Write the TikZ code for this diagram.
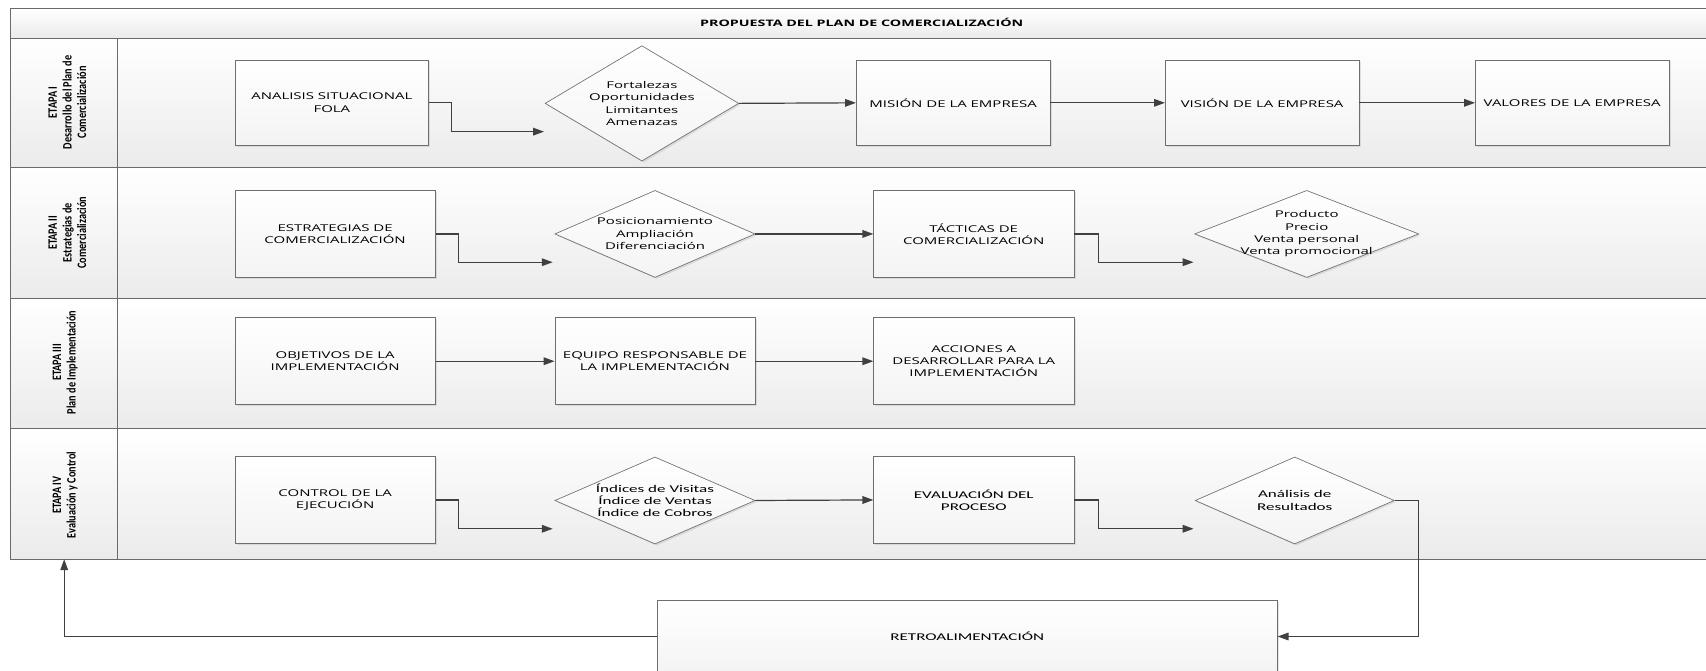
\documentclass[tikz,border=0pt]{standalone}
\usepackage{fontspec}
\setmainfont{Open Sans}
\newfontfamily\segw[FakeStretch=1.6]{Open Sans}
\newfontfamily\calw[FakeStretch=1.65]{Carlito}
\newfontfamily\calc[FakeStretch=0.8]{Carlito}
\usetikzlibrary{arrows.meta,shapes.geometric,shadows}
\definecolor{linec}{HTML}{6A6A6A}
\definecolor{arrc}{HTML}{404040}
\definecolor{boxc}{HTML}{6E6E6E}
\definecolor{shadebot}{HTML}{EBEBEB}
\begin{document}
\begin{tikzpicture}[x=1pt,y=-1pt,
 lane/.style={draw=linec, line width=0.8pt, top color=white, bottom color=shadebot},
 stepbox/.style={rectangle, draw=boxc, line width=0.6pt, top color=white, bottom color=gray!9,
   minimum width=184, minimum height=80, inner sep=1pt, align=center,
   font=\segw\fontsize{8.6}{11.4}\selectfont,
   drop shadow={opacity=0.2, shadow xshift=1.5pt, shadow yshift=-1.5pt}},
 dia/.style={diamond, draw=boxc, line width=0.6pt, top color=white, bottom color=gray!9,
   inner sep=0pt, minimum width=184, minimum height=80,
   drop shadow={opacity=0.2, shadow xshift=1.5pt, shadow yshift=-1.5pt}},
 dtext/.style={align=center, inner sep=0pt, font=\segw\fontsize{8.6}{11.4}\selectfont},
 caltext/.style={font=\calw\fontsize{9.5}{11.2}\selectfont},
 arr/.style={draw=arrc, line width=1.1pt, -{Triangle[length=10pt,width=7pt]}},
 lbl/.style={rotate=90, align=center, inner sep=0pt, font=\calc\bfseries\fontsize{11.8}{13.4}\selectfont}
]
\useasboundingbox (0,0) rectangle (1568,616);
\clip (0,0) rectangle (1568,616);
\fill[white] (0,0) rectangle (1568,616);

% title band and lanes
\path[lane] (10,8) rectangle (1590,35);
\path[lane] (10,35) rectangle (108,154);
\path[lane] (108,35) rectangle (1590,154);
\path[lane] (10,154) rectangle (108,274);
\path[lane] (108,154) rectangle (1590,274);
\path[lane] (10,274) rectangle (108,394);
\path[lane] (108,274) rectangle (1590,394);
\path[lane] (10,394) rectangle (108,514);
\path[lane] (108,394) rectangle (1590,514);

\node[font=\segw\bfseries\fontsize{8.2}{10}\selectfont] (title) at (792,21) {PROPUESTA DEL PLAN DE COMERCIALIZACIÓN};

\node[lbl] (l1) at (62,94) {ETAPA I\\Desarrollo del Plan de\\Comercialización};
\node[lbl] (l2) at (62,214) {ETAPA II\\Estrategias de\\Comercialización};
\node[lbl] (l3) at (60,333) {ETAPA III\\Plan de Implementación};
\node[lbl] (l4) at (60,455) {ETAPA IV\\Evaluación y Control};

% lane 1
\node[stepbox, minimum width=178, minimum height=79] (a1) at (305,94.5) {ANALISIS SITUACIONAL\\FOLA};
\node[dia, minimum width=178, minimum height=106] (d1) at (590,95) {};
\node[dtext] (d1t) at (d1.center) {Fortalezas\\Oportunidades\\Limitantes\\Amenazas};
\node[stepbox, minimum width=178, minimum height=79] (a2) at (876,94.5) {MISIÓN DE LA EMPRESA};
\node[stepbox, minimum width=178, minimum height=79] (a3) at (1160,94.5) {VISIÓN DE LA EMPRESA};
\node[stepbox, minimum width=178, minimum height=79] (a4) at (1445,94.5) {VALORES DE LA EMPRESA};
\coordinate (p1) at (500,121);

% lane 2
\node[stepbox] (b1) at (308,215) {ESTRATEGIAS DE\\COMERCIALIZACIÓN};
\node[dia] (d2) at (602,215) {};
\node[dtext] (d2t) at (d2.center) {Posicionamiento\\Ampliación\\Diferenciación};
\node[stepbox] (b2) at (895,215) {TÁCTICAS DE\\COMERCIALIZACIÓN};
\node[dia, minimum width=206] (d3) at (1201,215) {};
\node[dtext] (d3t) at (d3.center) {Producto\\Precio\\Venta personal\\Venta promocional};
\coordinate (p2) at (508,241);
\coordinate (p3) at (1097,241);

% lane 3
\node[stepbox] (c1) at (308,332) {OBJETIVOS DE LA\\IMPLEMENTACIÓN};
\node[stepbox] (c2) at (602,332) {EQUIPO RESPONSABLE DE\\LA IMPLEMENTACIÓN};
\node[stepbox] (c3) at (895,332) {ACCIONES A\\DESARROLLAR PARA LA\\IMPLEMENTACIÓN};

% lane 4
\node[stepbox] (e1) at (308,459.5) {CONTROL DE LA\\EJECUCIÓN};
\node[dia] (d4) at (602,460) {};
\node[dtext, caltext] (d4t) at (d4.center) {Índices de Visitas\\Índice de Ventas\\Índice de Cobros};
\node[stepbox, caltext] (e2) at (895,459.5) {EVALUACIÓN DEL\\PROCESO};
\node[dia, minimum width=183] (d5) at (1190,460) {};
\node[dtext, caltext] (d5t) at (d5.center) {Análisis de\\Resultados};
\coordinate (p4) at (508,486);
\coordinate (p5) at (1097,486);

% feedback
\node[stepbox, caltext, minimum width=570, minimum height=66] (rb) at (889,585) {RETROALIMENTACIÓN};
\coordinate (p6) at (59,514);

% connectors
\draw[arr] (a1.east) -- ++(21,0) |- (p1);
\draw[arr] (d1.east) -- (a2.west);
\draw[arr] (a2.east) -- (a3.west);
\draw[arr] (a3.east) -- (a4.west);

\draw[arr] (b1.east) -- ++(21,0) |- (p2);
\draw[arr] (d2.east) -- (b2.west);
\draw[arr] (b2.east) -- ++(22,0) |- (p3);

\draw[arr] (c1.east) -- (c2.west);
\draw[arr] (c2.east) -- (c3.west);

\draw[arr] (e1.east) -- ++(21,0) |- (p4);
\draw[arr] (d4.east) -- (e2.west);
\draw[arr] (e2.east) -- ++(22,0) |- (p5);
\draw[arr] (d5.east) -- ++(22,0) |- (rb.east);
\draw[arr] (rb.west) -| (p6);
\end{tikzpicture}
\end{document}
